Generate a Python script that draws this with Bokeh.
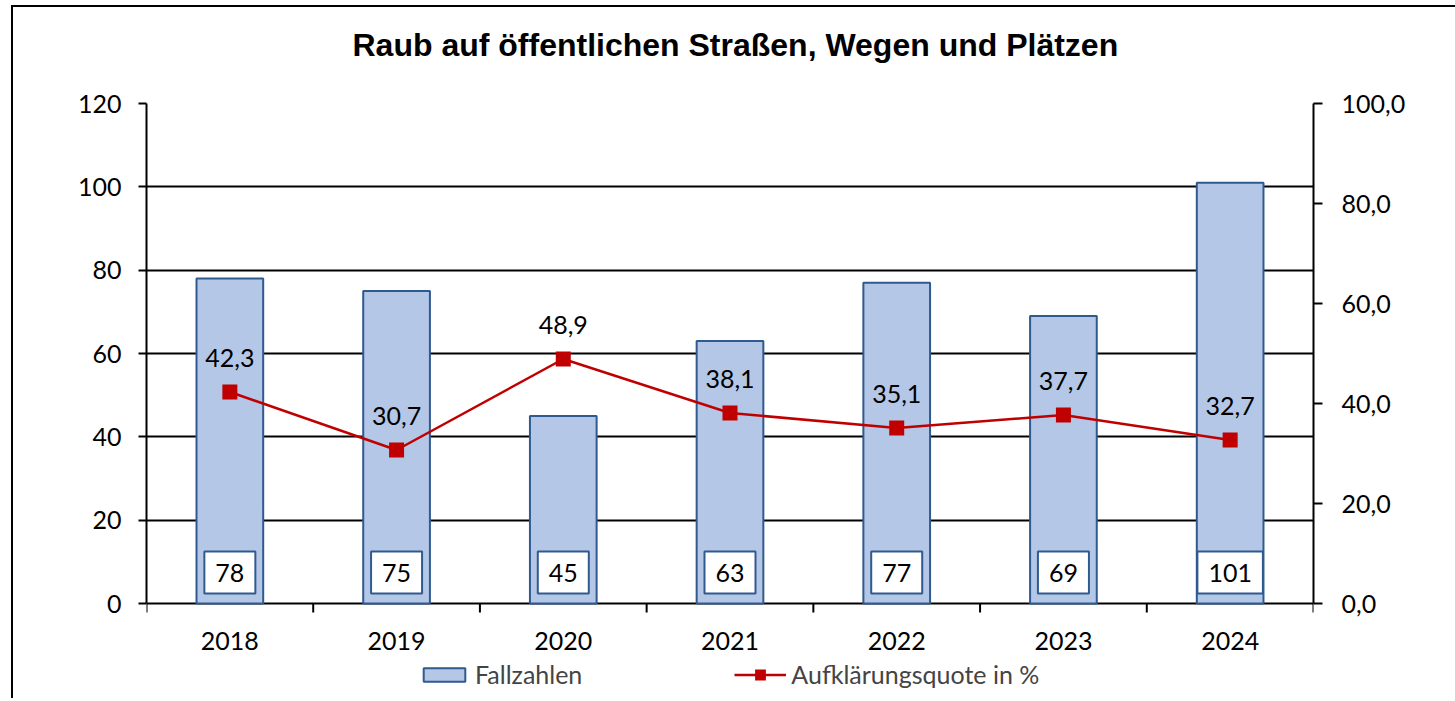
import math
from bokeh.plotting import figure
from bokeh.models import (Range1d, LinearAxis, FixedTicker, Legend, LegendItem,
                          ColumnDataSource)
from bokeh.core.properties import value
from bokeh.embed import file_html
from bokeh.resources import INLINE

# ---- data ----
title_text = "Raub auf öffentlichen Straßen, Wegen und Plätzen"
years = ["2018", "2019", "2020", "2021", "2022", "2023", "2024"]
fallzahlen = [78, 75, 45, 63, 77, 69, 101]
quote = [42.3, 30.7, 48.9, 38.1, 35.1, 37.7, 32.7]
left_ticks = [0, 20, 40, 60, 80, 100, 120]
right_ticks = [0, 20, 40, 60, 80, 100]
right_tick_labels = ["0,0", "20,0", "40,0", "60,0", "80,0", "100,0"]
legend_labels = ["Fallzahlen", "Aufklärungsquote in %"]

FONT = "Lato"
FS = "25px"
BAR_FILL = "#B4C7E7"
BAR_LINE = "#2F5A8F"
RED = "#C00000"

# layout: plot area 500 px for the value range, plus 92 px below for labels/legend
VAL_PX = 500
EXTRA_PX = 92
left_max = left_ticks[-1]
right_max = right_ticks[-1]

xc = [i + 0.5 for i in range(len(years))]
bounds_x = list(range(len(years) + 1))
src = ColumnDataSource(dict(
    x=xc, year=years, n=fallzahlen, n_lbl=[str(v) for v in fallzahlen],
    q=quote, q_lbl=[f"{v:.1f}".replace(".", ",") for v in quote],
))

p = figure(frame_width=1167, frame_height=VAL_PX + EXTRA_PX,
           x_range=Range1d(0, len(years)),
           y_range=Range1d(-left_max * EXTRA_PX / VAL_PX, left_max),
           x_axis_location=None,
           output_backend="svg", toolbar_location=None,
           min_border_left=133, min_border_right=142,
           min_border_top=96, min_border_bottom=3)
p.styles = {"border-left": "2px solid black", "border-top": "2px solid black",
            "margin-left": "11px", "margin-top": "5px"}
p.outline_line_color = None
p.background_fill_color = "white"
p.border_fill_color = "white"

p.title.text = title_text + "\n"
p.title.text_font = "Liberation Sans"
p.title.text_font_style = "bold"
p.title.text_font_size = "32px"
p.title.text_color = "black"
p.title.align = "left"
p.title.offset = 206
p.title.standoff = 9

p.extra_y_ranges = {"right": Range1d(-right_max * EXTRA_PX / VAL_PX, right_max)}

# left axis
ya = p.yaxis[0]
ya.ticker = FixedTicker(ticks=left_ticks)
ya.bounds = (0, left_max)
ya.major_label_text_font = FONT
ya.major_label_text_font_size = FS
ya.major_label_text_color = "black"
ya.axis_line_width = 2
ya.axis_line_color = "black"
ya.major_tick_line_width = 2
ya.major_tick_in = 0
ya.major_tick_out = 8
ya.minor_tick_line_color = None
ya.major_label_standoff = 17

# right axis
ra = LinearAxis(y_range_name="right", ticker=FixedTicker(ticks=right_ticks),
                bounds=(0, right_max),
                major_label_overrides={t: l for t, l in zip(right_ticks, right_tick_labels)})
ra.major_label_text_font = FONT
ra.major_label_text_font_size = FS
ra.major_label_text_color = "black"
ra.axis_line_width = 2
ra.axis_line_color = "black"
ra.major_tick_line_width = 2
ra.major_tick_in = 0
ra.major_tick_out = 9
ra.minor_tick_line_color = None
ra.major_label_standoff = 19
p.add_layout(ra, "right")

p.xgrid.visible = False
p.ygrid.ticker = FixedTicker(ticks=left_ticks)
p.ygrid.grid_line_color = "black"
p.ygrid.grid_line_width = 2

# category axis: boundary ticks and year labels below the zero line
p.ray(x=bounds_x, y=[0] * len(bounds_x), length=9, length_units="screen",
      angle=-math.pi / 2, line_color="black", line_width=2)
p.text(x="x", y=0, text="year", source=src, y_offset=37,
       text_align="center", text_baseline="middle",
       text_font=value(FONT), text_font_size=value(FS), text_color="black")

bars = p.vbar(x="x", top="n", bottom=0, width=0.4, source=src,
              fill_color=BAR_FILL, line_color=BAR_LINE, line_width=2)

p.text(x="x", y=0, text="n_lbl", source=src, y_offset=-31,
       text_align="center", text_baseline="middle",
       text_font=value(FONT), text_font_size=value(FS), text_color="black",
       background_fill_color="white", border_line_color=BAR_LINE,
       border_line_width=2,
       padding=dict(left=11, right=11, top=12, bottom=12))

ln = p.line(x="x", y="q", source=src, y_range_name="right",
            line_color=RED, line_width=2.5)
sc = p.scatter(x="x", y="q", source=src, y_range_name="right", marker="square",
               size=11, fill_color=RED, line_color=RED, line_width=4,
               line_join="miter")

p.text(x="x", y="q", text="q_lbl", source=src, y_range_name="right",
       y_offset=-34, text_align="center", text_baseline="middle",
       text_font=value(FONT), text_font_size=value(FS), text_color="black")

legend = Legend(items=[LegendItem(label=legend_labels[0], renderers=[bars]),
                       LegendItem(label=legend_labels[1], renderers=[ln, sc])],
                orientation="horizontal", location=(272, 6),
                border_line_color=None, background_fill_alpha=0,
                label_text_font=FONT, label_text_font_size=FS,
                glyph_width=52, glyph_height=17, spacing=152,
                label_standoff=5, padding=0, margin=0)
p.add_layout(legend, "center")

open("out.html", "w").write(file_html(p, INLINE))
